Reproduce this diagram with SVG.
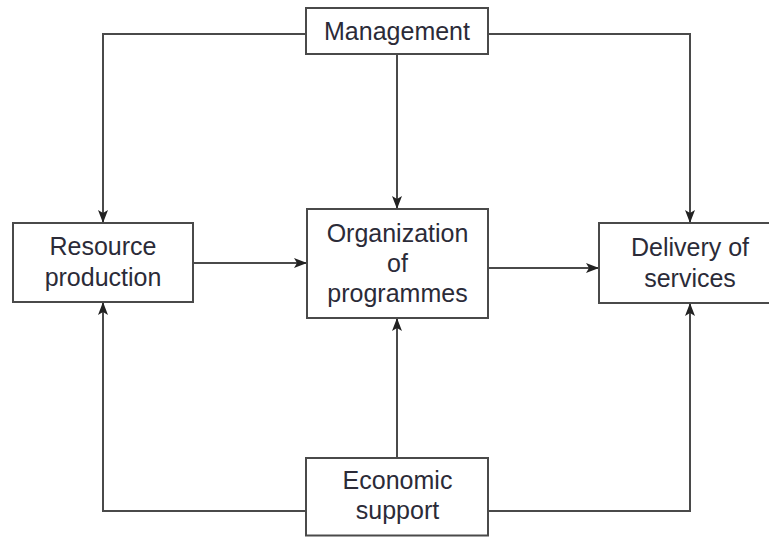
<svg xmlns="http://www.w3.org/2000/svg" width="769" height="537" viewBox="0 0 769 537">
<style>
.box{fill:#fff;stroke:#4a4a4a;stroke-width:2}
.lbl{font-family:"Liberation Sans",Arial,sans-serif;font-size:25px;fill:#2b2b38;text-anchor:middle}
.cn{fill:none;stroke:#4a4a4a;stroke-width:2}
</style>
<defs>
<marker id="ah" viewBox="0 0 13 10" refX="13" refY="5" markerWidth="13" markerHeight="10" markerUnits="userSpaceOnUse" orient="auto">
<path d="M0,0 L13,5 L0,10 L3,5 Z" fill="#222"/>
</marker>
</defs>
<rect width="769" height="537" fill="#fff"/>
<g id="connectors">
<path class="cn" d="M306,34 H103 V223" marker-end="url(#ah)"/>
<path class="cn" d="M488,34 H690 V223" marker-end="url(#ah)"/>
<path class="cn" d="M397,54 V209" marker-end="url(#ah)"/>
<path class="cn" d="M193,263 H307" marker-end="url(#ah)"/>
<path class="cn" d="M488,268 H599" marker-end="url(#ah)"/>
<path class="cn" d="M397,458 V318" marker-end="url(#ah)"/>
<path class="cn" d="M306,511 H103 V302" marker-end="url(#ah)"/>
<path class="cn" d="M488,511 H690 V303" marker-end="url(#ah)"/>
</g>
<g id="management">
<rect class="box" x="306" y="8" width="182" height="46"/>
<text class="lbl" x="397" y="40">Management</text>
</g>
<g id="resource">
<rect class="box" x="13" y="223" width="180" height="79"/>
<text class="lbl" x="103" y="255">Resource</text>
<text class="lbl" x="103" y="286">production</text>
</g>
<g id="organization">
<rect class="box" x="307" y="209" width="181" height="109"/>
<text class="lbl" x="397.5" y="242">Organization</text>
<text class="lbl" x="397.5" y="272">of</text>
<text class="lbl" x="397.5" y="302">programmes</text>
</g>
<g id="delivery">
<rect class="box" x="599" y="223" width="182" height="80"/>
<text class="lbl" x="690" y="256">Delivery of</text>
<text class="lbl" x="690" y="287">services</text>
</g>
<g id="economic">
<rect class="box" x="306" y="458" width="182" height="77.5"/>
<text class="lbl" x="397.5" y="489">Economic</text>
<text class="lbl" x="397.5" y="519">support</text>
</g>
</svg>
